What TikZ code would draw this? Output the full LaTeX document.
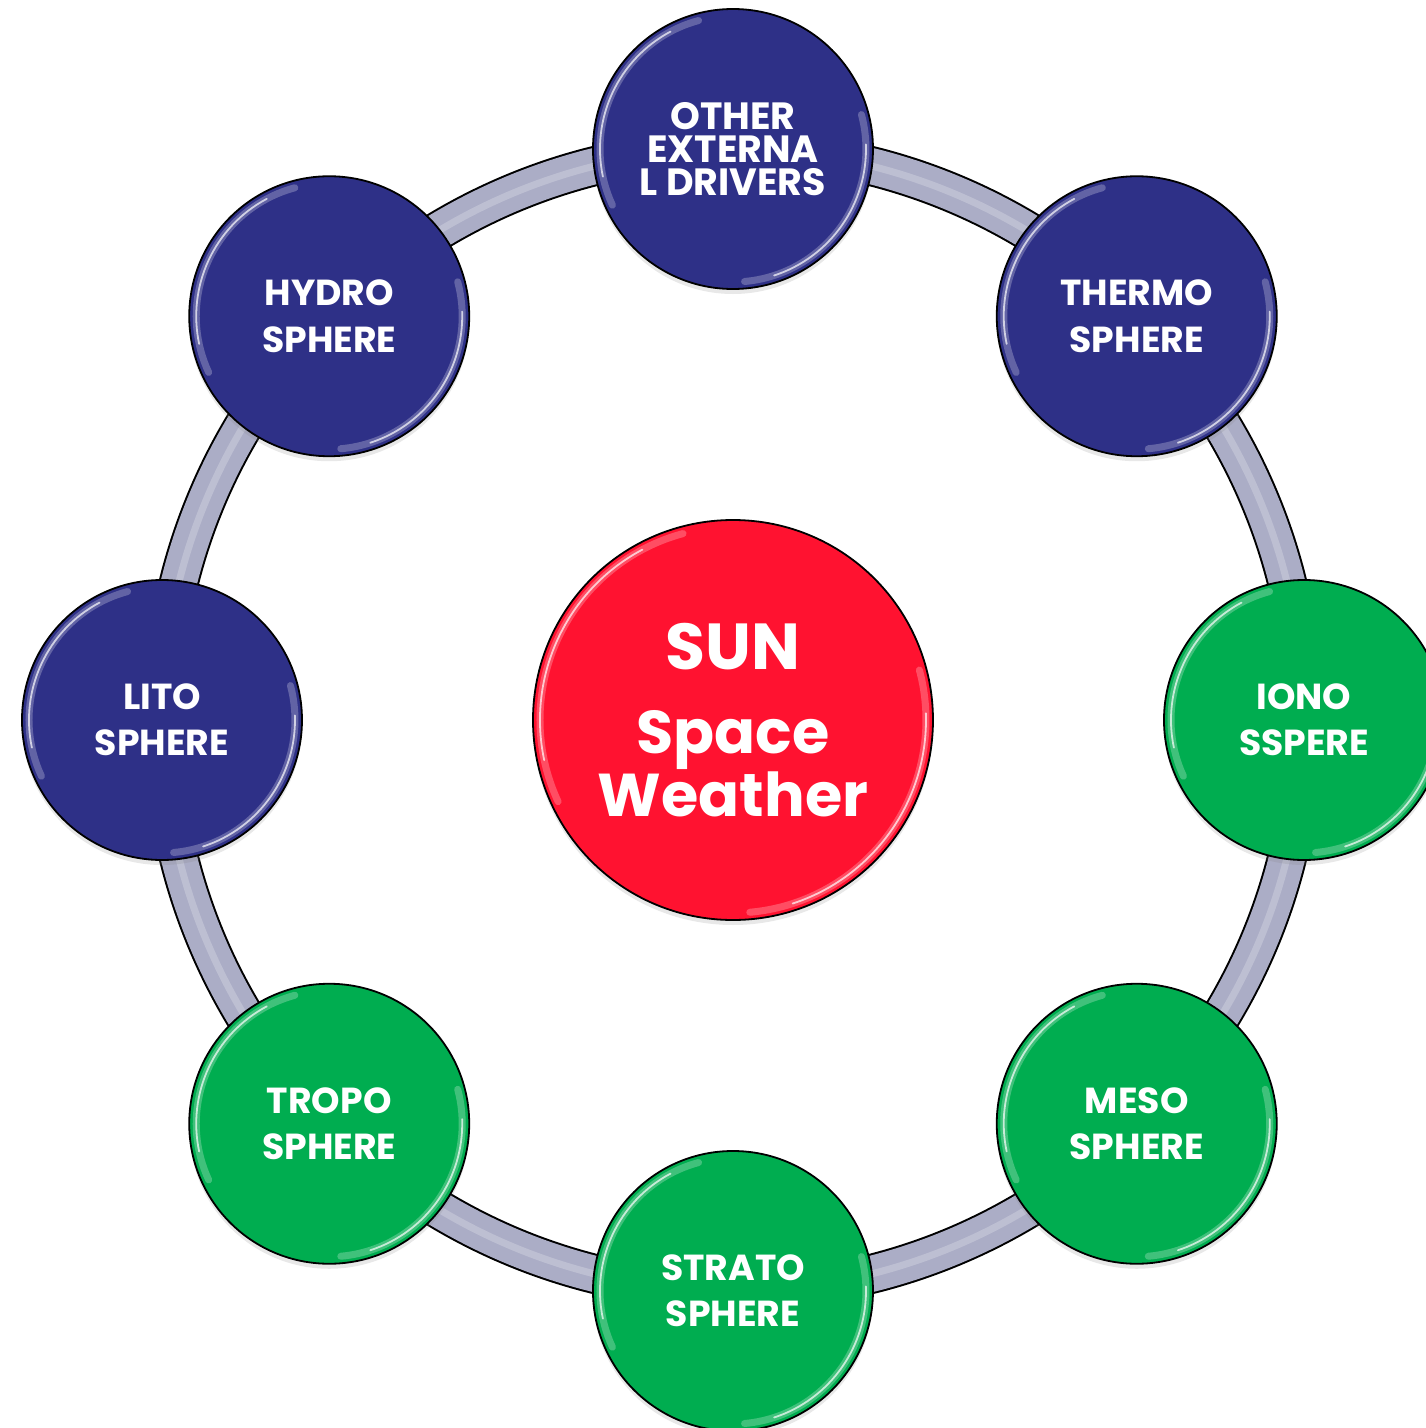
\documentclass[tikz,border=0pt]{standalone}
\usepackage{fontspec}
\setmainfont{Poppins}
\usetikzlibrary{backgrounds,calc,shadows}
\definecolor{ballblue}{HTML}{2E3087}
\definecolor{ballgreen}{HTML}{00AD50}
\definecolor{ballred}{HTML}{FF1230}
\definecolor{bandgray}{HTML}{ABADC6}
\newcommand\glossy[1]{%
  \draw[white,opacity=0.25,line width=0.07cm,line cap=round]
    ($(path picture bounding box.center)+(105:#1-0.07)$) arc[start angle=105,end angle=205,radius=#1-0.07];
  \draw[white,opacity=0.7,line width=0.018cm,line cap=round]
    ($(path picture bounding box.center)+(118:#1-0.07)$) arc[start angle=118,end angle=192,radius=#1-0.07];
  \draw[white,opacity=0.25,line width=0.07cm,line cap=round]
    ($(path picture bounding box.center)+(-85:#1-0.07)$) arc[start angle=-85,end angle=15,radius=#1-0.07];
  \draw[white,opacity=0.7,line width=0.018cm,line cap=round]
    ($(path picture bounding box.center)+(-72:#1-0.07)$) arc[start angle=-72,end angle=2,radius=#1-0.07];
}
\tikzset{
  ball/.style={circle, draw=black, line width=0.018cm, minimum size=2.8cm, inner sep=0pt,
    text=white, align=center, font=\bfseries\fontsize{10.3}{13.1}\selectfont,
    drop shadow={opacity=0.18, shadow xshift=0cm, shadow yshift=-0.05cm},
    path picture={\glossy{1.4}}},
  blueball/.style={ball, fill=ballblue},
  greenball/.style={ball, fill=ballgreen},
  sunball/.style={circle, draw=black, line width=0.018cm, minimum size=4cm, inner sep=0pt,
    fill=ballred, text=white, align=center, font=\bfseries\fontsize{17.2}{17.9}\selectfont,
    drop shadow={opacity=0.18, shadow xshift=0cm, shadow yshift=-0.05cm},
    path picture={\glossy{2.0}}},
  band/.style={draw=black, line width=0.40cm,
    postaction={draw=bandgray, line width=0.36cm},
    postaction={draw=white, opacity=0.22, line width=0.07cm}}
}
\begin{document}
\begin{tikzpicture}
\useasboundingbox (-7.33,-7.08) rectangle (6.93,7.20);
\node[sunball] (sun) at (0,0) {{\fontsize{18.5}{17.9}\selectfont SUN}\\[0.21cm]Space\\Weather};
\node[blueball, font=\bfseries\fontsize{10.8}{9.4}\selectfont] (other) at (90:5.71) {OTHER\\EXTERNA\\L DRIVERS};
\node[blueball] (thermo) at (45:5.71) {THERMO\\SPHERE};
\node[greenball] (iono) at (0:5.71) {IONO\\SSPERE};
\node[greenball] (meso) at (-45:5.71) {MESO\\SPHERE};
\node[greenball] (strato) at (-90:5.71) {STRATO\\SPHERE};
\node[greenball] (tropo) at (-135:5.71) {TROPO\\SPHERE};
\node[blueball] (lito) at (180:5.71) {LITO\\SPHERE};
\node[blueball] (hydro) at (135:5.71) {HYDRO\\SPHERE};
\begin{pgfonlayer}{background}
\foreach \a/\b/\t [evaluate=\t as \o using \t-90, evaluate=\t as \i using \t+45] in
  {other/thermo/90, thermo/iono/45, iono/meso/0, meso/strato/-45,
   strato/tropo/-90, tropo/lito/-135, lito/hydro/-180, hydro/other/-225}
  \draw[band] (\a.center) to[out=\o, in=\i, looseness=0.885] (\b.center);
\end{pgfonlayer}
\end{tikzpicture}
\end{document}
